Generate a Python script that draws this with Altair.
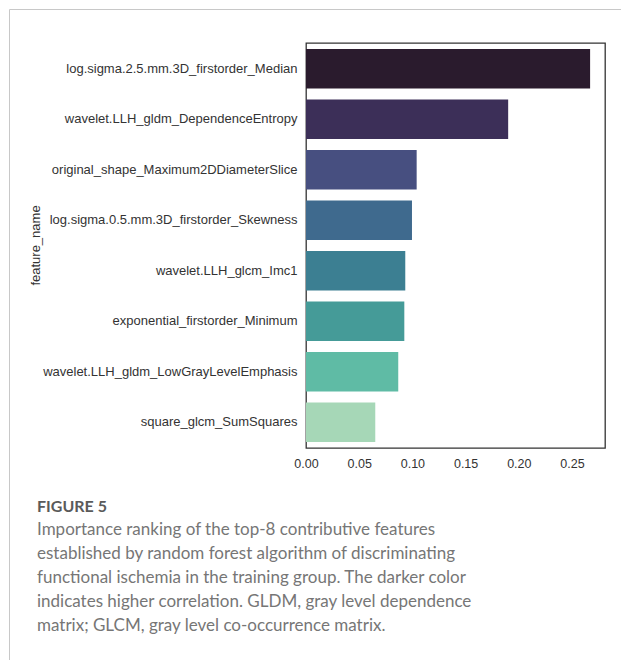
import altair as alt
import pandas as pd

# Top-8 features ranked by random forest importance
features = [
    "log.sigma.2.5.mm.3D_firstorder_Median",
    "wavelet.LLH_gldm_DependenceEntropy",
    "original_shape_Maximum2DDiameterSlice",
    "log.sigma.0.5.mm.3D_firstorder_Skewness",
    "wavelet.LLH_glcm_Imc1",
    "exponential_firstorder_Minimum",
    "wavelet.LLH_gldm_LowGrayLevelEmphasis",
    "square_glcm_SumSquares",
]
importance = [0.267, 0.190, 0.104, 0.0996, 0.0933, 0.0924, 0.0867, 0.0651]

# mako-style palette, darkest for the most important feature
bar_colors = ["#2a1b2d", "#3c2f58", "#474f80", "#3f6a8e",
              "#3c7f92", "#459b98", "#5fbba5", "#a6d7b7"]

x_ticks = [0.0, 0.05, 0.10, 0.15, 0.20, 0.25]

caption_title = "FIGURE 5"
caption_lines = [
    "Importance ranking of the top-8 contributive features",
    "established by random forest algorithm of discriminating",
    "functional ischemia in the training group. The darker color",
    "indicates higher correlation. GLDM, gray level dependence",
    "matrix; GLCM, gray level co-occurrence matrix.",
]

df = pd.DataFrame({"feature_name": features, "importance": importance})

bars = alt.Chart(df).mark_bar().encode(
    y=alt.Y(
        "feature_name:N",
        sort=features,
        scale=alt.Scale(paddingInner=0.22, paddingOuter=0.12),
        axis=alt.Axis(
            title="feature_name",
            domain=False,
            ticks=False,
            labelPadding=9,
            labelLimit=400,
            labelFontSize=13,
            labelFont="Liberation Sans",
            labelColor="#333333",
            titleFont="Liberation Sans",
            titleFontSize=13,
            titleFontWeight="normal",
            titleColor="#333333",
            titleAngle=270,
            titleAlign="center",
            titleBaseline="middle",
            titleX=-271,
            titleY=202,
        ),
    ),
    x=alt.X(
        "importance:Q",
        scale=alt.Scale(domain=[0, 0.281], nice=False, zero=True),
        axis=alt.Axis(
            title=None,
            values=x_ticks,
            format=".2f",
            domain=False,
            ticks=False,
            grid=False,
            labelPadding=9,
            labelFontSize=12.5,
            labelFont="Liberation Sans",
            labelColor="#333333",
            labelFlush=False,
        ),
    ),
    color=alt.Color(
        "feature_name:N",
        scale=alt.Scale(domain=features, range=bar_colors),
        legend=None,
    ),
)

# light card border along the top and left of the figure
border_top = alt.Chart().mark_rule(color="#c8c8c8", strokeWidth=1).encode(
    x=alt.value(-296.5), x2=alt.value(320), y=alt.value(-33.5)
)
border_left = alt.Chart().mark_rule(color="#c8c8c8", strokeWidth=1).encode(
    x=alt.value(-296.5), y=alt.value(-33.5), y2=alt.value(620)
)

# figure caption below the plot
cap_head = alt.Chart().mark_text(
    text=caption_title, align="left", baseline="alphabetic",
    font="Lato", fontSize=16, fontWeight="bold", color="#5a5a5a",
).encode(x=alt.value(-269), y=alt.value(468.5))

cap_body = alt.Chart().mark_text(
    text=caption_lines, align="left", baseline="alphabetic", lineHeight=24,
    font="Lato", fontSize=17, fontWeight="normal", color="#767676",
).encode(x=alt.value(-269), y=alt.value(492))

chart = alt.layer(bars, border_top, border_left, cap_head, cap_body).properties(
    width=299,
    height=405,
    autosize=alt.AutoSizeParams(type="none"),
    padding={"left": 306, "top": 43, "right": 16, "bottom": 212},
    background="white",
).configure_view(
    stroke="#333333", strokeWidth=1.3
)

chart.save("out.html", embed_options={"renderer": "svg", "actions": False})
